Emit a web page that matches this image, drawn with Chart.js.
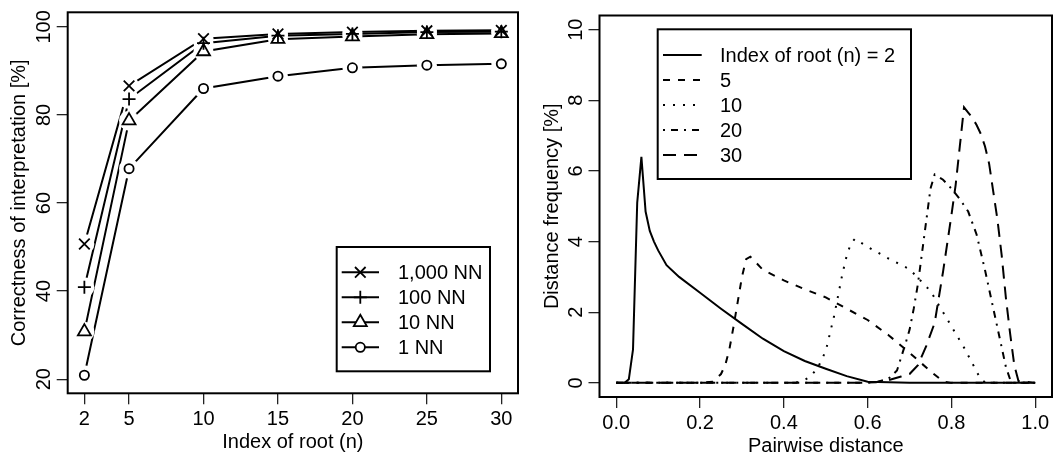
<!DOCTYPE html>
<html>
<head>
<meta charset="utf-8">
<script src="https://cdn.jsdelivr.net/npm/chart.js@4.4.1/dist/chart.umd.min.js"></script>
<style>
html, body { margin: 0; padding: 0; background: #fff; }
#wrap { position: relative; width: 1057px; height: 456px; }
canvas { position: absolute; top: 0; }
</style>
</head>
<body>
<div id="wrap">
<canvas id="left" width="528" height="456" style="left:0"></canvas>
<canvas id="right" width="529" height="456" style="left:528px"></canvas>
</div>
<script>
// left panel: correctness vs index of root
const rootIndex = [2, 5, 10, 15, 20, 25, 30];
const nn1000 = [50.7, 86.6, 97.3, 98.4, 98.8, 99.1, 99.2];
const nn100 = [40.9, 83.6, 96.3, 98.0, 98.4, 98.8, 98.9];
const nn10 = [30.8, 78.7, 94.4, 97.2, 97.8, 98.3, 98.5];
const nn1 = [20.9, 67.8, 86.0, 88.8, 90.7, 91.3, 91.6];
const nnLabels = ["1,000 NN", "100 NN", "10 NN", "1 NN"];
const leftYTicks = [20, 40, 60, 80, 100];

// right panel: distance frequency histograms
const distN2 = [0, 0.02, 0.03, 0.04, 0.05, 0.06, 0.07, 0.08, 0.09, 0.1, 0.12, 0.15, 0.2, 0.25, 0.3, 0.35, 0.4, 0.45, 0.5, 0.55, 0.6, 0.7, 0.8, 0.9, 1.0];
const freqN2 = [0, 0, 0.1, 0.95, 5.1, 6.4, 4.85, 4.3, 4.0, 3.75, 3.33, 3.0, 2.55, 2.1, 1.67, 1.25, 0.9, 0.62, 0.4, 0.19, 0.03, 0, 0, 0, 0];
const distN5 = [0, 0.2, 0.23, 0.25, 0.26, 0.27, 0.28, 0.29, 0.3, 0.31, 0.32, 0.33, 0.35, 0.4, 0.45, 0.5, 0.55, 0.6, 0.65, 0.7, 0.75, 0.78, 0.8, 1.0];
const freqN5 = [0, 0, 0.03, 0.25, 0.5, 0.95, 1.6, 2.3, 3.0, 3.5, 3.57, 3.45, 3.2, 2.9, 2.65, 2.42, 2.1, 1.78, 1.35, 0.85, 0.33, 0.04, 0, 0];
const distN10 = [0, 0.4, 0.44, 0.46, 0.48, 0.5, 0.52, 0.54, 0.55, 0.56, 0.57, 0.58, 0.6, 0.65, 0.7, 0.75, 0.8, 0.83, 0.85, 0.87, 0.88, 0.9, 1.0];
const freqN10 = [0, 0, 0.02, 0.15, 0.4, 0.9, 1.9, 3.1, 3.6, 3.95, 4.08, 4.0, 3.85, 3.52, 3.22, 2.6, 1.6, 1.0, 0.55, 0.1, 0.02, 0, 0];
const distN20 = [0, 0.58, 0.62, 0.65, 0.67, 0.69, 0.7, 0.71, 0.72, 0.73, 0.74, 0.75, 0.76, 0.78, 0.8, 0.82, 0.84, 0.86, 0.88, 0.9, 0.92, 0.93, 0.94, 0.95, 1.0];
const freqN20 = [0, 0, 0.02, 0.12, 0.35, 1.1, 1.5, 2.1, 2.8, 3.7, 4.6, 5.5, 5.9, 5.75, 5.5, 5.2, 4.85, 4.2, 3.2, 2.1, 1.0, 0.45, 0.1, 0, 0];
const distN30 = [0, 0.58, 0.62, 0.65, 0.68, 0.7, 0.72, 0.74, 0.76, 0.78, 0.8, 0.81, 0.82, 0.83, 0.84, 0.85, 0.86, 0.87, 0.88, 0.89, 0.9, 0.91, 0.92, 0.93, 0.94, 0.95, 0.96, 1.0];
const freqN30 = [0, 0, 0.02, 0.08, 0.18, 0.25, 0.5, 1.05, 1.7, 3.15, 4.75, 5.6, 6.7, 7.8, 7.65, 7.5, 7.3, 7.05, 6.7, 6.2, 5.4, 4.6, 3.6, 2.4, 1.4, 0.5, 0.05, 0];
const rootLabels = ["Index of root (n) = 2", "5", "10", "20", "30"];
const rightXTicks = [0, 0.2, 0.4, 0.6, 0.8, 1.0];
const rightYTicks = [0, 2, 4, 6, 8, 10];

const FONT = '"Liberation Sans", Arial, Helvetica, sans-serif';
const txtFont = { family: FONT, size: 20, lineHeight: 1 };

function drawMarker(ctx, style, x, y, r) {
    // small version of the R pch symbols, used in the legend
    ctx.beginPath();
    if (style === 'crossRot') {
        let d = r * Math.SQRT1_2;
        ctx.moveTo(x - d, y - d); ctx.lineTo(x + d, y + d);
        ctx.moveTo(x + d, y - d); ctx.lineTo(x - d, y + d);
    } else if (style === 'cross') {
        ctx.moveTo(x - r, y); ctx.lineTo(x + r, y);
        ctx.moveTo(x, y - r); ctx.lineTo(x, y + r);
    } else if (style === 'triangle') {
        ctx.moveTo(x, y - r);
        ctx.lineTo(x + r * Math.sin(2 * Math.PI / 3), y - r * Math.cos(2 * Math.PI / 3));
        ctx.lineTo(x + r * Math.sin(4 * Math.PI / 3), y - r * Math.cos(4 * Math.PI / 3));
        ctx.closePath();
        ctx.fillStyle = '#fff'; ctx.fill();
    } else {
        ctx.arc(x, y, r, 0, Math.PI * 2);
        ctx.fillStyle = '#fff'; ctx.fill();
    }
    ctx.stroke();
}

const boxPlugin = {
    id: 'box',
    afterDatasetsDraw(chart) {
        const a = chart.chartArea, ctx = chart.ctx;
        ctx.save();
        ctx.lineWidth = 2;
        ctx.strokeStyle = '#000';
        ctx.strokeRect(a.left, a.top, a.right - a.left, a.bottom - a.top);
        ctx.restore();
    }
};

function axisScale(cfg) {
    // common look of the R style axes
    return Object.assign({
        type: 'linear',
        border: { display: false },
        grid: { display: true, drawOnChartArea: false, drawTicks: true, tickLength: 11, color: '#222', lineWidth: 1.3 },
    }, cfg);
}

// ---------- left chart ----------
const nnSeries = [nn1000, nn100, nn10, nn1];
const nnStyles = ['crossRot', 'cross', 'triangle', 'circle'];
const nnRadius = [7.5, 6.5, 7.5, 4.6];

let leftDatasets = [];
nnSeries.forEach((vals, i) => {
    let pts = rootIndex.map((x, j) => ({ x: x, y: vals[j] }));
    leftDatasets.push({ data: pts, borderColor: '#000', borderWidth: 2, pointRadius: 0, order: 2 });
    leftDatasets.push({ data: pts, showLine: false, pointStyle: 'circle', pointRadius: 10,
        pointBackgroundColor: '#fff', pointBorderWidth: 0, order: 1 });
    leftDatasets.push({ data: pts, showLine: false, pointStyle: nnStyles[i], pointRadius: nnRadius[i],
        pointBorderColor: '#000', pointBackgroundColor: 'rgba(0,0,0,0)', pointBorderWidth: 1.8, order: 0 });
});

const leftLegend = {
    id: 'leftLegend',
    afterDraw(chart) {
        const ctx = chart.ctx;
        ctx.save();
        ctx.fillStyle = '#fff';
        ctx.fillRect(336.7, 247, 153.3, 124.3);
        ctx.lineWidth = 2;
        ctx.strokeStyle = '#000';
        ctx.strokeRect(336.7, 247, 153.3, 124.3);
        nnLabels.forEach((lab, i) => {
            let y = 272.3 + i * 25;
            ctx.lineWidth = 2;
            ctx.beginPath(); ctx.moveTo(341.7, y); ctx.lineTo(379, y); ctx.stroke();
            ctx.lineWidth = 1.8;
            drawMarker(ctx, nnStyles[i], 360.3, y, nnRadius[i]);
            ctx.fillStyle = '#000';
            ctx.font = '20px ' + FONT;
            ctx.textBaseline = 'middle';
            ctx.fillText(lab, 398, y + 1);
        });
        ctx.restore();
    }
};

new Chart(document.getElementById('left'), {
    type: 'line',
    data: { datasets: leftDatasets },
    options: {
        responsive: false,
        animation: false,
        events: [],
        layout: { padding: { left: 0, top: 12.3, right: 9.7, bottom: 0 } },
        elements: { line: { tension: 0 } },
        plugins: { legend: { display: false }, tooltip: { enabled: false } },
        scales: {
            x: axisScale({
                min: 0.88, max: 31.12,
                afterBuildTicks: s => { s.ticks = rootIndex.map(v => ({ value: v })); },
                afterFit: s => { s.height = 62.7; },
                ticks: { font: txtFont, color: '#000', padding: 5.5, minRotation: 0, maxRotation: 0, autoSkip: false },
                title: { display: true, text: 'Index of root (n)', font: txtFont, color: '#000', padding: { top: 0, bottom: 3.2 } }
            }),
            y: axisScale({
                min: 16.8, max: 103.3,
                afterBuildTicks: s => { s.ticks = leftYTicks.map(v => ({ value: v })); },
                afterFit: s => { s.width = 67.7; },
                ticks: { font: txtFont, color: '#000', padding: -4.7, minRotation: 90, maxRotation: 90, crossAlign: 'center', autoSkip: false },
                title: { display: true, text: 'Correctness of interpretation [%]', font: txtFont, color: '#000', padding: { top: 9.8, bottom: 0 } }
            })
        }
    },
    plugins: [boxPlugin, leftLegend]
});

// ---------- right chart ----------
const rootX = [distN2, distN5, distN10, distN20, distN30];
const rootY = [freqN2, freqN5, freqN10, freqN20, freqN30];
const rootDash = [[], [7, 8], [2, 8], [2, 6, 7, 6], [13, 8]];

const rightDatasets = rootX.map((xs, i) => ({
    data: xs.map((x, j) => ({ x: x, y: rootY[i][j] })),
    borderColor: '#000',
    borderWidth: 2,
    borderDash: rootDash[i],
    borderCapStyle: 'butt',
    pointRadius: 0
}));

const rightLegend = {
    id: 'rightLegend',
    afterDraw(chart) {
        const ctx = chart.ctx;
        ctx.save();
        ctx.fillStyle = '#fff';
        ctx.fillRect(129.7, 29.3, 253.3, 149.7);
        ctx.lineWidth = 2;
        ctx.strokeStyle = '#000';
        ctx.strokeRect(129.7, 29.3, 253.3, 149.7);
        rootLabels.forEach((lab, i) => {
            let y = 55 + i * 25;
            ctx.setLineDash(rootDash[i]);
            ctx.beginPath(); ctx.moveTo(135, y); ctx.lineTo(173.7, y); ctx.stroke();
            ctx.setLineDash([]);
            ctx.fillStyle = '#000';
            ctx.font = '20px ' + FONT;
            ctx.textBaseline = 'middle';
            ctx.fillText(lab, 192, y + 1);
        });
        ctx.restore();
    }
};

new Chart(document.getElementById('right'), {
    type: 'line',
    data: { datasets: rightDatasets },
    options: {
        responsive: false,
        animation: false,
        events: [],
        layout: { padding: { left: 0, top: 15.5, right: 5, bottom: 0 } },
        elements: { line: { tension: 0 } },
        plugins: { legend: { display: false }, tooltip: { enabled: false } },
        scales: {
            x: axisScale({
                min: -0.04, max: 1.04,
                afterBuildTicks: s => { s.ticks = rightXTicks.map(v => ({ value: v })); },
                afterFit: s => { s.height = 59; },
                ticks: { font: txtFont, color: '#000', padding: 5.5, minRotation: 0, maxRotation: 0, autoSkip: false,
                    callback: v => v.toFixed(1) },
                title: { display: true, text: 'Pairwise distance', font: txtFont, color: '#000', padding: { top: 0, bottom: -0.5 } }
            }),
            y: axisScale({
                min: -0.4, max: 10.4,
                afterBuildTicks: s => { s.ticks = rightYTicks.map(v => ({ value: v })); },
                afterFit: s => { s.width = 71.5; },
                ticks: { font: txtFont, color: '#000', padding: 0.9, minRotation: 90, maxRotation: 90, crossAlign: 'center', autoSkip: false },
                title: { display: true, text: 'Distance frequency [%]', font: txtFont, color: '#000', padding: { top: 14, bottom: 0 } }
            })
        }
    },
    plugins: [boxPlugin, rightLegend]
});
</script>
</body>
</html>
